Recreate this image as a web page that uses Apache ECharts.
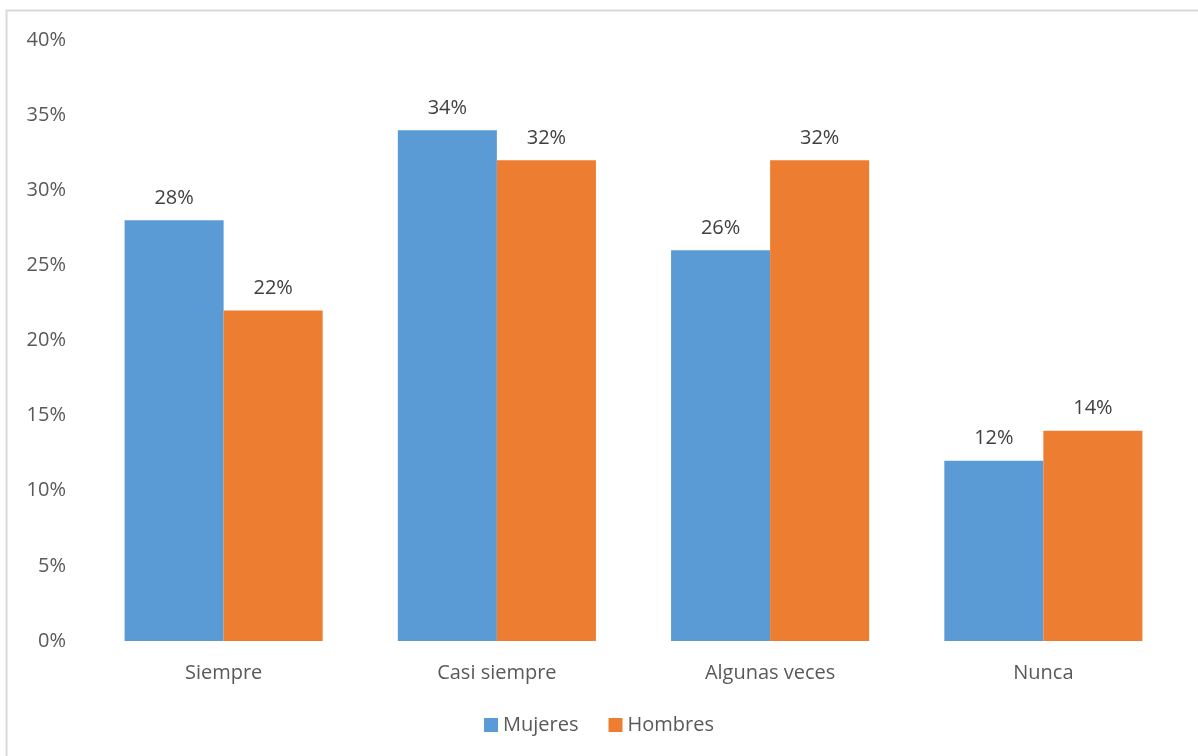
<!DOCTYPE html>
<html>
<head>
<meta charset="utf-8">
<script src="https://cdn.jsdelivr.net/npm/echarts@6/dist/echarts.min.js"></script>
<style>
html,body{margin:0;padding:0;background:#fff;}
#chart{width:1198px;height:756px;}
</style>
</head>
<body>
<div id="chart"></div>
<script>
const categories = ['Siempre', 'Casi siempre', 'Algunas veces', 'Nunca'];
const mujeres = [28, 34, 26, 12];
const hombres = [22, 32, 32, 14];
const seriesNames = ['Mujeres', 'Hombres'];

const font = '"Open Sans", "Noto Sans", sans-serif';
const textColor = '#595959';
const chart = echarts.init(document.getElementById('chart'), null, {renderer: 'canvas'});
chart.setOption({
  animation: false,
  textStyle: {fontFamily: font},
  graphic: [{
    type: 'rect',
    shape: {x: 6.5, y: 10.5, width: 1300, height: 900},
    style: {fill: 'none', stroke: '#d9d9d9', lineWidth: 2},
    silent: true
  }],
  grid: {left: 87, right: 18, top: 40, bottom: 115, containLabel: false},
  legend: {
    data: seriesNames,
    bottom: 16,
    left: 'center',
    itemWidth: 14,
    itemHeight: 14,
    itemGap: 30,
    icon: 'rect',
    textStyle: {color: textColor, fontSize: 20, fontFamily: font}
  },
  xAxis: {
    type: 'category',
    data: categories,
    axisLine: {show: false},
    axisTick: {show: false},
    axisLabel: {color: textColor, fontSize: 20, fontFamily: font, margin: 22}
  },
  yAxis: {
    type: 'value',
    min: 0,
    max: 40,
    interval: 5,
    splitLine: {show: false},
    axisLine: {show: false},
    axisTick: {show: false},
    axisLabel: {color: textColor, fontSize: 20, fontFamily: font, margin: 21, formatter: '{value}%'}
  },
  series: [
    {
      name: seriesNames[0], type: 'bar', data: mujeres,
      barGap: '0%', barCategoryGap: '27.5%',
      itemStyle: {color: '#5B9BD5'},
      label: {show: true, position: 'top', distance: 12, color: '#404040', fontSize: 20, fontFamily: font, formatter: '{c}%'}
    },
    {
      name: seriesNames[1], type: 'bar', data: hombres,
      barGap: '0%', barCategoryGap: '27.5%',
      itemStyle: {color: '#ED7D31'},
      label: {show: true, position: 'top', distance: 12, color: '#404040', fontSize: 20, fontFamily: font, formatter: '{c}%'}
    }
  ]
});
</script>
</body>
</html>
